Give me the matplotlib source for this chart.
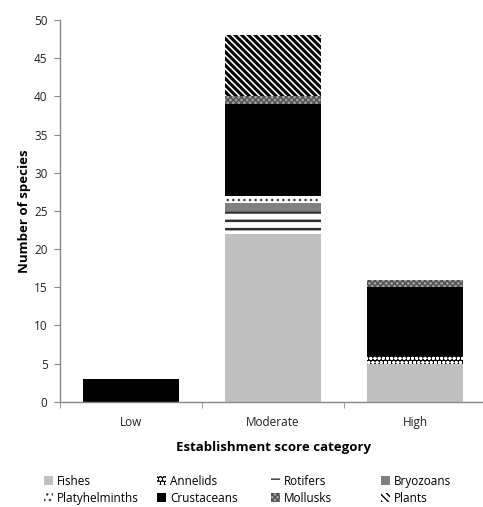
import matplotlib
matplotlib.use("Agg")
import matplotlib.pyplot as plt
import numpy as np

categories = ["Low", "Moderate", "High"]
groups = ["Fishes", "Annelids", "Rotifers", "Bryozoans",
          "Platyhelminths", "Crustaceans", "Mollusks", "Plants"]
values = {
    "Fishes":         [0, 22, 5],
    "Annelids":       [0, 0, 1],
    "Rotifers":       [0, 3, 0],
    "Bryozoans":      [0, 1, 0],
    "Platyhelminths": [0, 1, 0],
    "Crustaceans":    [3, 12, 9],
    "Mollusks":       [0, 1, 1],
    "Plants":         [0, 8, 0],
}
yticks = [0, 5, 10, 15, 20, 25, 30, 35, 40, 45, 50]

styles = {
    "Fishes":         dict(face="#c0c0c0", edge="#c0c0c0", hatch=None, hlw=1.0),
    "Annelids":       dict(face="black", edge="white", hatch="oooo", hlw=1.0),
    "Rotifers":       dict(face="white", edge="#303030", hatch="--", hlw=1.8),
    "Bryozoans":      dict(face="#808080", edge="#808080", hatch=None, hlw=1.0),
    "Platyhelminths": dict(face="white", edge="#404040", hatch="...", hlw=1.0),
    "Crustaceans":    dict(face="black", edge="black", hatch=None, hlw=1.0),
    "Mollusks":       dict(face="#a0a0a0", edge="#505050", hatch="xxxxxx", hlw=1.0),
    "Plants":         dict(face="white", edge="black", hatch="\\" * 5, hlw=2.2),
}

plt.rcParams['font.family'] = ['Open Sans', 'DejaVu Sans']
fig = plt.figure(figsize=(4.83, 5.07), dpi=100)
ax = fig.add_axes([60/483, 105.3/507, 426/483, 381.7/507])

x = np.arange(len(categories))
bottom = np.zeros(len(categories))
handles = {}
for g in groups:
    st = styles[g]
    with plt.rc_context({'hatch.linewidth': st["hlw"]}):
        bars = ax.bar(x, values[g], width=0.67, bottom=bottom, color=st["face"],
                      edgecolor=st["edge"], hatch=st["hatch"], linewidth=0, label=g)
        for b in bars:
            if hasattr(b, "set_hatch_linewidth"):
                b.set_hatch_linewidth(st["hlw"])
    handles[g] = bars
    bottom += np.array(values[g])

ax.set_xlim(-0.5, 2.5)
ax.set_ylim(0, 50)
ax.set_yticks(yticks)
ax.set_xticks(x)
ax.set_xticklabels(categories)
ax.set_xticks([-0.5, 0.5, 1.5, 2.5], minor=True)
ax.tick_params(axis='x', which='major', length=0, pad=10, labelsize=8.5, colors='#222222')
ax.tick_params(axis='x', which='minor', length=4, color='#888888', direction='out')
ax.tick_params(axis='y', length=4, color='#888888', labelsize=8.5, pad=5, labelcolor='#222222')
for s in ['top', 'right']:
    ax.spines[s].set_visible(False)
for s in ['left', 'bottom']:
    ax.spines[s].set_color('#888888')
    ax.spines[s].set_linewidth(1.0)

ax.set_ylabel("Number of species", fontsize=9.5, fontweight='bold', labelpad=2)
ax.set_xlabel("Establishment score category", fontsize=9.5, fontweight='bold', labelpad=9)

# legend: 4 columns, row-wise ordering
col_x = [44/483, 157/483, 271/483, 381/483]
for c in range(4):
    items = [groups[c], groups[c + 4]]
    leg = fig.legend([handles[g] for g in items], items, loc='upper left',
                     bbox_to_anchor=(col_x[c], 32/507), frameon=False,
                     fontsize=8.5, handlelength=0.8, handleheight=0.8,
                     handletextpad=0.3, labelspacing=0.3, borderpad=0.0,
                     borderaxespad=0.0)

fig.savefig("out.png", dpi=100)
